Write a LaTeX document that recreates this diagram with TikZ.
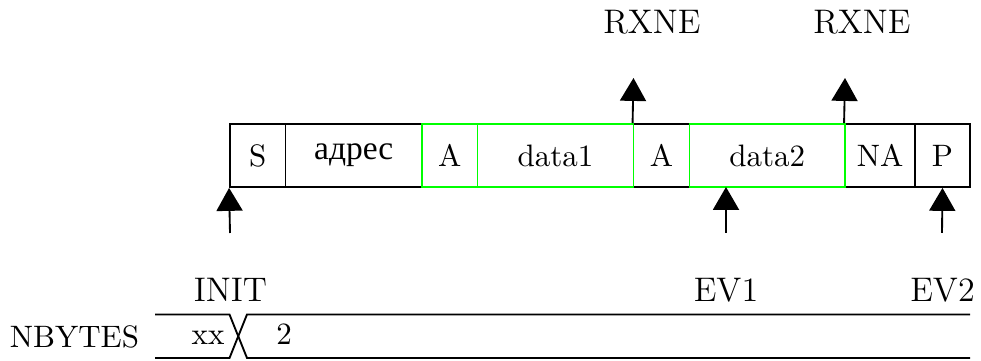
\documentclass[tikz,border=0pt]{standalone}
\usepackage{fontspec}
\usetikzlibrary{arrows.meta}
\newfontfamily\cyrfont{Liberation Serif}
\def\u{0.3226pt}
\begin{document}
\begin{tikzpicture}[x=\u,y=-\u,line width=0.6pt,
  fieldbox/.style={draw=black,inner sep=0pt,minimum height=63*\u,font=\fontsize{10}{12}\selectfont},
  greenbox/.style={fieldbox,draw=green},
  sig/.style={-{Triangle[width=8.4pt,length=7.4pt]}},
  lbl/.style={anchor=base,inner sep=0pt,font=\fontsize{11}{13}\selectfont},
  tlbl/.style={anchor=base,inner sep=0pt,font=\fontsize{10}{12}\selectfont}]
\useasboundingbox (0,0) rectangle (981,361);
% frame fields (black first, green on top)
\node[fieldbox,minimum width=55.5*\u] (S) at (257.75,155.5) {S};
\node[fieldbox,minimum width=136.5*\u] (adr) at (353.75,155.5) {\fontsize{10.8}{12}\cyrfont адрес};
\node[fieldbox,minimum width=56*\u] (A2) at (661.5,155.5) {A};
\node[fieldbox,minimum width=70*\u] (NA) at (880,155.5) {NA};
\node[fieldbox,minimum width=55*\u] (P) at (942.5,155.5) {P};
\node[greenbox,minimum width=55.5*\u] (A1) at (449.75,155.5) {A};
\node[greenbox,minimum width=156*\u] (d1) at (555.5,155.5) {data1};
\node[greenbox,minimum width=155.5*\u] (d2) at (767.25,155.5) {data2};
% event arrows
\coordinate (initb) at (230,233);
\coordinate (ev1b) at (726,233);
\coordinate (ev1t) at (726,187);
\coordinate (ev2b) at (942,233);
\coordinate (rx1t) at (633.5,78);
\coordinate (rx2t) at (845,78);
\draw[sig] (initb) -- (S.south west);
\draw[sig] (ev1b) -- (ev1t);
\draw[sig] (ev2b) -- (P.south);
\draw[sig] (A2.north west) -- (rx1t);
\draw[sig] (NA.north west) -- (rx2t);
% labels
\node[lbl] (rx1) at (652,34) {RXNE};
\node[lbl] (rx2) at (862,34) {RXNE};
\node[lbl] (init) at (230.5,302) {INIT};
\node[lbl] (ev1) at (726,302) {EV1};
\node[lbl] (ev2) at (942.5,302) {EV2};
% timing
\node[anchor=base,inner sep=0pt,font=\fontsize{10}{12}\selectfont] (nb) at (74.5,348) {NBYTES};
\coordinate (tl0) at (155,314.5);
\coordinate (bl0) at (155,358);
\coordinate (tl1) at (229.5,314.5);
\coordinate (bl1) at (229.5,358);
\coordinate (tl2) at (247,314.5);
\coordinate (bl2) at (247,358);
\coordinate (tl3) at (970,314.5);
\coordinate (bl3) at (970,358);
\draw (tl0) -- (tl1) -- (bl2) -- (bl3);
\draw (bl0) -- (bl1) -- (tl2) -- (tl3);
\node[tlbl] (xx) at (208,345) {xx};
\node[tlbl] (two) at (284,345) {2};
\end{tikzpicture}
\end{document}
